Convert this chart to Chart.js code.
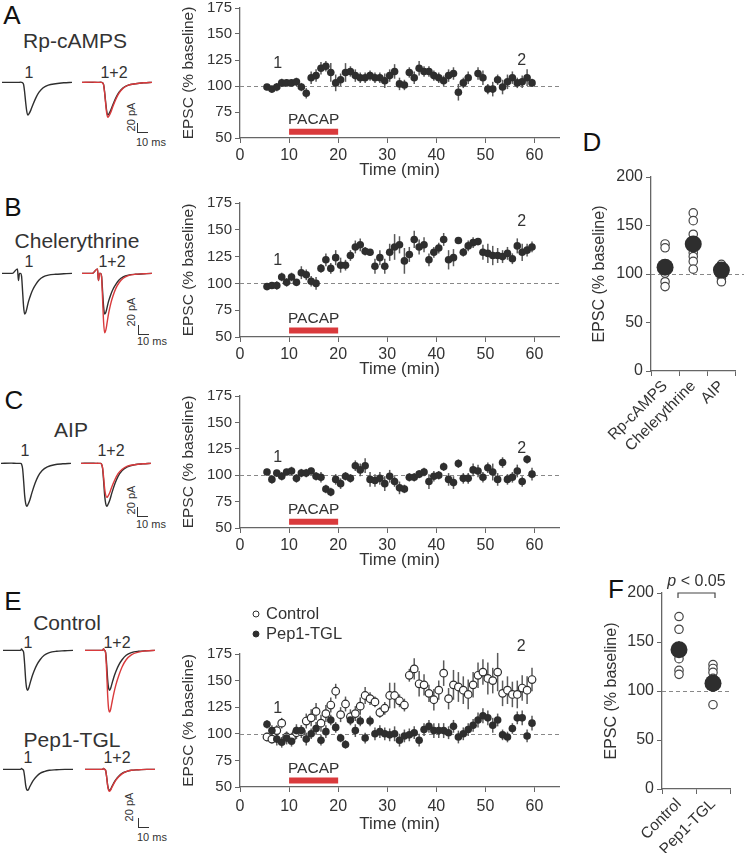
<!DOCTYPE html>
<html>
<head>
<meta charset="utf-8">
<script src="https://cdn.jsdelivr.net/npm/chart.js@4.4.0/dist/chart.umd.min.js"></script>
<style>
  body { margin: 0; width: 744px; height: 853px; position: relative; overflow: hidden; background: #fff;
         font-family: "Liberation Sans", Arial, sans-serif; color: #333; }
  canvas { position: absolute; }
  .t { position: absolute; white-space: nowrap; line-height: 1; transform: translate(-50%, -50%); }
  .let { font-size: 26px; color: #111; }
  .ttl { font-size: 21px; }
  .num { font-size: 16px; }
  .pa { font-size: 11px; transform: translate(-50%, -50%) rotate(-90deg); }
  .ms { position: absolute; font-size: 11px; line-height: 1; transform: translateY(-50%); white-space: nowrap; }
  .bar { position: absolute; width: 10px; height: 9px; border-left: 1.3px solid #333; border-bottom: 1.3px solid #333; }
</style>
</head>
<body>

<!-- panel letters -->
<div class="t let" style="left:12px;top:15px">A</div>
<div class="t let" style="left:13px;top:207px">B</div>
<div class="t let" style="left:14px;top:400px">C</div>
<div class="t let" style="left:592px;top:142px">D</div>
<div class="t let" style="left:13px;top:601px">E</div>
<div class="t let" style="left:616px;top:589px">F</div>

<!-- trace titles -->
<div class="t ttl" style="left:75px;top:40px">Rp-cAMPS</div>
<div class="t ttl" style="left:77px;top:240px">Chelerythrine</div>
<div class="t ttl" style="left:71px;top:429px">AIP</div>
<div class="t ttl" style="left:67px;top:622px">Control</div>
<div class="t ttl" style="left:72px;top:739px">Pep1-TGL</div>

<div class="t num" style="left:29px;top:73px">1</div>
<div class="t num" style="left:114px;top:73px">1+2</div>
<div class="t num" style="left:29px;top:262px">1</div>
<div class="t num" style="left:112px;top:262px">1+2</div>
<div class="t num" style="left:25px;top:451px">1</div>
<div class="t num" style="left:111px;top:451px">1+2</div>
<div class="t num" style="left:28px;top:643px">1</div>
<div class="t num" style="left:117px;top:643px">1+2</div>
<div class="t num" style="left:28px;top:758px">1</div>
<div class="t num" style="left:117px;top:758px">1+2</div>

<!-- scale bars -->
<div class="t pa" style="left:131px;top:117px">20 pA</div>
<div class="bar" style="left:137px;top:123px"></div>
<div class="ms" style="left:136px;top:142px">10 ms</div>
<div class="t pa" style="left:131px;top:312px">20 pA</div>
<div class="bar" style="left:138px;top:325px"></div>
<div class="ms" style="left:137px;top:341px">10 ms</div>
<div class="t pa" style="left:131px;top:500px">20 pA</div>
<div class="bar" style="left:137px;top:507px"></div>
<div class="ms" style="left:136px;top:524px">10 ms</div>
<div class="t pa" style="left:129px;top:807px">20 pA</div>
<div class="bar" style="left:138px;top:818px"></div>
<div class="ms" style="left:137px;top:837px">10 ms</div>

<!-- traces -->
<canvas id="trA1" width="70" height="68" style="left:2px;top:77px"></canvas>
<canvas id="trA2" width="70" height="68" style="left:82px;top:77px"></canvas>
<canvas id="trB1" width="70" height="68" style="left:2px;top:268px"></canvas>
<canvas id="trB2" width="70" height="68" style="left:82px;top:268px"></canvas>
<canvas id="trC1" width="70" height="68" style="left:1px;top:458px"></canvas>
<canvas id="trC2" width="70" height="68" style="left:81px;top:458px"></canvas>
<canvas id="trE1" width="70" height="68" style="left:3px;top:645px"></canvas>
<canvas id="trE2" width="70" height="68" style="left:85px;top:645px"></canvas>
<canvas id="trP1" width="70" height="68" style="left:3px;top:764px"></canvas>
<canvas id="trP2" width="70" height="68" style="left:85px;top:764px"></canvas>

<!-- time courses -->
<canvas id="cA" width="392" height="189" style="left:175px;top:-4px"></canvas>
<canvas id="cB" width="392" height="193" style="left:175px;top:191px"></canvas>
<canvas id="cC" width="392" height="191" style="left:175px;top:384px"></canvas>
<canvas id="cE" width="392" height="243" style="left:175px;top:596px"></canvas>

<!-- summaries -->
<canvas id="cD" width="169" height="336" style="left:575px;top:130px"></canvas>
<canvas id="cF" width="154" height="293" style="left:590px;top:560px"></canvas>

<script>
// time points (min)
const minutes = [5.5, 6.5, 7.5, 8.5, 9.5, 10.5, 11.5, 12.5, 13.5, 14.5, 15.5, 16.5, 17.5, 18.5, 19.5,
  20.5, 21.5, 22.5, 23.5, 24.5, 25.5, 26.5, 27.5, 28.5, 29.5, 30.5, 31.5, 32.5, 33.5, 34.5, 35.5,
  36.5, 37.5, 38.5, 39.5, 40.5, 41.5, 42.5, 43.5, 44.5, 45.5, 46.5, 47.5, 48.5, 49.5, 50.5, 51.5,
  52.5, 53.5, 54.5, 55.5, 56.5, 57.5, 58.5, 59.5];

// A - Rp-cAMPS (% baseline, SEM)
const rpValues = [99, 97, 99, 103, 103, 103, 104, 99, 93, 108, 110, 117, 119, 113, 103, 106, 113, 114, 110,
  108, 108, 110, 108, 108, 105, 110, 114, 102, 101, 113, 108, 117, 114, 114, 110, 108, 105, 110, 112, 94,
  103, 108, null, 112, 108, 97, 97, 106, 99, 104, 108, 103, 104, 108, 103];
const rpErr = [3, 3, 4, 4, 3, 3, 4, 4, 5, 6, 6, 6, 5, 9, 8, 6, 9, 5, 6, 5, 5, 5, 5, 5, 7, 6, 7, 6, 5, 5,
  6, 7, 5, 5, 5, 5, 5, 6, 6, 8, 5, 6, null, 6, 7, 5, 7, 5, 7, 7, 6, 5, 6, 8, 4];

// B - Chelerythrine
const cheValues = [97, 98, 98, 106, 101, 106, 101, 110, 108, 102, 100, 114, 122, 114, 124, 117, 117, 126,
  134, 136, 130, 129, 116, 124, 116, 129, 134, 136, 121, 127, 141, 134, 136, 122, 129, 133, 141, 122, 124,
  140, 129, 135, 138, 139, 129, 128, 126, 126, 125, 128, 123, 135, 129, 131, 134];
const cheErr = [3, 3, 4, 4, 4, 4, 3, 6, 5, 5, 6, 4, 6, 5, 7, 7, 5, 5, 6, 6, 4, 3, 7, 7, 7, 8, 12, 8, 12, 7,
  8, 7, 7, 6, 5, 5, 6, 9, 8, 3, 4, 5, 5, 3, 7, 9, 9, 7, 6, 6, 5, 7, 8, 6, 5];

// C - AIP
const aipValues = [103, 96, 102, 99, 103, 104, 97, 102, 102, 104, 99, 98, 87, 84, 96, 92, 99, 97, 109, 105,
  109, 96, 95, 97, 92, 99, 94, 88, 87, 98, 98, 101, 103, 94, 99, 100, 108, 96, 93, 111, 97, 97, 105, 104,
  98, 107, 103, 96, 112, 96, 98, 104, 94, 115, 101];
const aipErr = [3, 4, 3, 4, 3, 4, 4, 4, 4, 3, 4, 5, 4, 4, 5, 5, 4, 4, 5, 6, 7, 7, 6, 6, 7, 6, 5, 6, 4, 4,
  4, 4, 4, 7, 5, 4, 4, 6, 6, 4, 5, 5, 6, 6, 5, 5, 8, 6, 5, 5, 5, 6, 5, 4, 6];

// E - Control vs Pep1-TGL
const ctlValues = [97, 95, 103, 110, 97, 96, 101, 102, 112, 115, 121, 110, 119, 127, 140, 118, 128, 116,
  119, 126, 136, 133, 130, 120, 124, 136, 136, 131, 127, 155, 161, 147, 146, 138, 132, 141, 157, 133, 146,
  144, 141, 137, 146, 155, 158, 152, 150, 158, 138, 141, 137, 137, 143, 141, 151];
const ctlErr = [4, 4, 5, 5, 5, 5, 6, 6, 7, 8, 8, 8, 8, 7, 7, 7, 7, 7, 7, 8, 8, 6, 5, 5, 6, 12, 12, 6, 6, 6,
  10, 12, 10, 8, 10, 9, 12, 10, 14, 14, 13, 14, 12, 12, 12, 15, 12, 18, 12, 13, 12, 13, 12, 13, 11];
const pepValues = [109, 103, 95, 92, 96, 93, 103, 103, 95, 100, 105, 94, 102, 113, 106, 96, 90, 113, 103,
  112, 96, 112, 100, 102, 100, 99, 100, 94, 98, 99, 101, 94, 104, 107, 103, 103, 103, 101, 107, 97, 100,
  104, 108, 113, 117, 115, 108, 113, 99, 97, 105, 115, 115, 98, 110];
const pepErr = [4, 5, 6, 5, 6, 5, 6, 5, 6, 5, 6, 5, 6, 5, 5, 4, 4, 5, 6, 5, 5, 5, 6, 6, 6, 6, 7, 6, 6, 6,
  6, 6, 6, 6, 7, 7, 7, 6, 6, 6, 6, 6, 6, 7, 7, 7, 7, 6, 5, 5, 5, 6, 7, 6, 7];

// PACAP application
const pacapStart = 10, pacapEnd = 20, pacapLevel = 56;

// D summary
const dCategories = ['Rp-cAMPS', 'Chelerythrine', 'AIP'];
const dMeans = [107, 131, 104];
const dSem = [7, 7, 3];
const dRp = [131, 127, 110, 101, 92, 87];
const dChe = [163, 155, 141, 133, 122, 118, 113, 105];
const dAip = [110, 107, 104, 100, 96, 92];

// F summary
const fCategories = ['Control', 'Pep1-TGL'];
const fMeans = [142, 108];
const fSem = [9, 6];
const fCtl = [176, 163, 137, 133, 121, 117];
const fPep = [127, 123, 119, 113, 104, 86];

// example EPSC traces (ms, pA)
const traceMs = [0, 10, 15, 16, 17, 18, 19, 20, 21, 22, 23, 24, 25, 26, 28, 30, 33, 36, 40, 45, 52, 60, 68];
const trA1 = [0, 0, 0, 0, 0, 0.5, 0, -1, -5, -22, -45, -64, -73, -71, -62, -50, -34, -22, -12, -6, -3, -1, 0];
const trA2 = [0, 0.5, 0, 0, 0, 0, 0, -1, -6, -24, -48, -69, -78, -76, -67, -54, -37, -24, -13, -6, -3, -1, 0];
const trB1 = [0, 0, 10, -16, 0, 0, -6, -40, -75, -91, -88, -80, -70, -61, -47, -36, -24, -15, -8, -4, -2, -1, 0];
const trB2 = [0, 0, 10, -16, 0, 0, -8, -58, -110, -133, -128, -116, -101, -88, -67, -51, -33, -21, -11, -5, -2, -1, 0];
const trC1 = [0, 0.5, 0, 0, 0, 0, 0, -2, -12, -40, -72, -90, -96, -93, -82, -66, -45, -29, -16, -8, -3, -1, 0];
const trC2 = [0, 0, 0, 0.5, 0, 0, 0, -2, -10, -32, -57, -71, -76, -74, -65, -52, -36, -23, -13, -6, -3, -1, 0];
const trE1 = [0, 0, 0, 0, 0, 3, 0, -4, -30, -65, -85, -89, -84, -76, -60, -47, -32, -21, -11, -5, -2, -1, 0];
const trE2 = [0, 0, 0, 0, 0, 3, 0, -6, -46, -100, -132, -138, -131, -119, -96, -77, -55, -37, -21, -10, -4, -1, 0];
const trP1 = [0, 0, 0, 0, 0, 2, 0, -2, -16, -35, -45, -47, -44, -39, -30, -23, -15, -9, -5, -2, -1, 0, 0];
const trP2 = [0, 0, 0, 0, 0, 2, 0, -2, -17, -37, -47, -49, -46, -41, -32, -24, -16, -10, -5, -2, -1, 0, 0];

const FONT = '"Liberation Sans", Arial, sans-serif';
const RED = '#d93a3c';
const DARK = '#2e2e2e';
Chart.defaults.font.family = FONT;
Chart.defaults.color = '#333';

// baseline, error bars, labels, bracket
const figPlugin = {
  id: 'fig',
  beforeDatasetsDraw(chart, args, o) {
    const { ctx, chartArea, scales: { x, y } } = chart;
    if (o.baseline !== undefined) {
      const py = Math.round(y.getPixelForValue(o.baseline)) + 0.5;
      ctx.save();
      ctx.strokeStyle = '#888';
      ctx.lineWidth = 1;
      ctx.setLineDash([4, 3]);
      ctx.beginPath();
      ctx.moveTo(chartArea.left, py);
      ctx.lineTo(o.extend ? chart.width : chartArea.right, py);
      ctx.stroke();
      ctx.restore();
    }
    chart.data.datasets.forEach((ds, i) => {
      if (!ds.yErr) return;
      const meta = chart.getDatasetMeta(i);
      ctx.save();
      ctx.strokeStyle = '#5a5a5a';
      ctx.lineWidth = 1.5;
      meta.data.forEach((pt, j) => {
        const v = ds.data[j].y, e = ds.yErr[j];
        if (v == null || e == null) return;
        ctx.beginPath();
        ctx.moveTo(pt.x, y.getPixelForValue(v - e));
        ctx.lineTo(pt.x, y.getPixelForValue(v + e));
        ctx.stroke();
      });
      ctx.restore();
    });
  },
  afterDatasetsDraw(chart, args, o) {
    const { ctx, chartArea, scales: { x, y } } = chart;
    ctx.save();
    ctx.fillStyle = '#333';
    ctx.textAlign = 'center';
    ctx.textBaseline = 'middle';
    (o.marks || []).forEach(m => {
      ctx.font = (m.size || 16) + 'px ' + FONT;
      ctx.fillText(m.text, x.getPixelForValue(m.x), y.getPixelForValue(m.y) + (m.dy || 0));
    });
    (o.legend || []).forEach((l, k) => {
      const lx = chartArea.left + 16, ly = chartArea.top - 40 + 20 * k;
      ctx.beginPath();
      ctx.arc(lx, ly, 3, 0, Math.PI * 2);
      ctx.fillStyle = l.open ? '#fff' : DARK;
      ctx.fill();
      ctx.strokeStyle = DARK;
      ctx.lineWidth = 1;
      ctx.stroke();
      ctx.fillStyle = '#333';
      ctx.textAlign = 'left';
      ctx.font = '16.5px ' + FONT;
      ctx.fillText(l.text, lx + 10, ly);
    });
    if (o.bracket) {
      const b = o.bracket;
      const x0 = x.getPixelForValue(b.from) - 1, x1 = x.getPixelForValue(b.to) + 2;
      const py = y.getPixelForValue(b.value);
      ctx.strokeStyle = '#444';
      ctx.lineWidth = 1.2;
      ctx.beginPath();
      ctx.moveTo(x0, py + 5); ctx.lineTo(x0, py); ctx.lineTo(x1, py); ctx.lineTo(x1, py + 5);
      ctx.stroke();
      ctx.font = 'italic 16px ' + FONT;
      const w1 = ctx.measureText('p').width;
      ctx.font = '16px ' + FONT;
      const w2 = ctx.measureText(' < 0.05').width;
      const sx = (x0 + x1) / 2 - (w1 + w2) / 2;
      ctx.textAlign = 'left';
      ctx.fillStyle = '#333';
      ctx.font = 'italic 16px ' + FONT;
      ctx.fillText('p', sx, py - 11);
      ctx.font = '16px ' + FONT;
      ctx.fillText(' < 0.05', sx + w1, py - 11);
    }
    ctx.restore();
  }
};

function traceChart(id, traces) {
  new Chart(document.getElementById(id), {
    type: 'line',
    data: {
      datasets: traces.map((t, k) => ({
        data: traceMs.map((ms, i) => ({ x: ms, y: t.vals[i] })),
        borderColor: t.color, borderWidth: 1.4, pointRadius: 0,
        cubicInterpolationMode: 'monotone', order: traces.length - k
      }))
    },
    options: {
      responsive: false, animation: false,
      layout: { padding: 0 },
      scales: {
        x: { type: 'linear', min: 0, max: 68, display: false },
        y: { min: -140, max: 12, display: false }
      },
      plugins: { legend: { display: false }, tooltip: { enabled: false } }
    }
  });
}

traceChart('trA1', [{ vals: trA1, color: DARK }]);
traceChart('trA2', [{ vals: trA1, color: DARK }, { vals: trA2, color: RED }]);
traceChart('trB1', [{ vals: trB1, color: DARK }]);
traceChart('trB2', [{ vals: trB1, color: DARK }, { vals: trB2, color: RED }]);
traceChart('trC1', [{ vals: trC1, color: DARK }]);
traceChart('trC2', [{ vals: trC1, color: DARK }, { vals: trC2, color: RED }]);
traceChart('trE1', [{ vals: trE1, color: DARK }]);
traceChart('trE2', [{ vals: trE1, color: DARK }, { vals: trE2, color: RED }]);
traceChart('trP1', [{ vals: trP1, color: DARK }]);
traceChart('trP2', [{ vals: trP1, color: DARK }, { vals: trP2, color: RED }]);

function timeCourse(id, series, fig, padTop, xHeight, labelPad) {
  const datasets = [{
    type: 'line',
    data: [{ x: pacapStart, y: pacapLevel }, { x: pacapEnd, y: pacapLevel }],
    borderColor: RED, borderWidth: 6, pointRadius: 0, borderCapStyle: 'butt', order: 9
  }];
  series.forEach(s => datasets.push({
    data: minutes.map((t, i) => ({ x: t, y: s.values[i] })),
    yErr: s.errs,
    pointRadius: 3.8,
    pointBackgroundColor: s.open ? '#fff' : DARK,
    pointBorderColor: DARK,
    pointBorderWidth: s.open ? 1.2 : 0,
    order: s.order || 0
  }));
  fig.marks = (fig.marks || []).concat([{ text: 'PACAP', x: (pacapStart + pacapEnd) / 2, y: pacapLevel, dy: -12, size: 15.5 }]);
  fig.baseline = 100;
  new Chart(document.getElementById(id), {
    type: 'scatter',
    data: { datasets },
    plugins: [figPlugin],
    options: {
      responsive: false, animation: false,
      layout: { padding: { top: padTop, right: 8, left: 0, bottom: 0 } },
      scales: {
        x: {
          type: 'linear', min: 0, max: 65,
          afterFit: s => { s.height = xHeight; },
          ticks: { stepSize: 10, includeBounds: false, maxRotation: 0, padding: labelPad, color: '#333', font: { size: 16 } },
          grid: { drawOnChartArea: false, color: '#666', tickLength: 5 },
          border: { color: '#666', width: 1.3 },
          title: { display: true, text: 'Time (min)', color: '#333', font: { size: 17 } }
        },
        y: {
          min: 50, max: 175,
          afterFit: s => { s.width = 65; },
          ticks: { stepSize: 25, padding: 3, color: '#333', font: { size: 15 } },
          grid: { drawOnChartArea: false, color: '#666', tickLength: 5 },
          border: { color: '#666', width: 1.3 },
          title: { display: true, text: 'EPSC (% baseline)', color: '#333', font: { size: 15.5 } }
        }
      },
      plugins: { legend: { display: false }, tooltip: { enabled: false }, fig }
    }
  });
}

timeCourse('cA', [{ values: rpValues, errs: rpErr }],
  { marks: [{ text: '1', x: 7.7, y: 122 }, { text: '2', x: 57.4, y: 124 }] }, 12, 47, 3);
timeCourse('cB', [{ values: cheValues, errs: cheErr }],
  { marks: [{ text: '1', x: 7.7, y: 121 }, { text: '2', x: 57.4, y: 158 }] }, 12, 47, 3);
timeCourse('cC', [{ values: aipValues, errs: aipErr }],
  { marks: [{ text: '1', x: 7.7, y: 117 }, { text: '2', x: 57.4, y: 125 }] }, 12, 47, 3);
timeCourse('cE', [
    { values: ctlValues, errs: ctlErr, open: true, order: 1 },
    { values: pepValues, errs: pepErr, order: 0 }
  ],
  { marks: [{ text: '1', x: 7.7, y: 124 }, { text: '2', x: 57.3, y: 182 }],
    legend: [{ text: 'Control', open: true }, { text: 'Pep1-TGL', open: false }] }, 58, 52, 5);

function groupChart(id, cats, means, sems, groups, cfg) {
  new Chart(document.getElementById(id), {
    type: 'scatter',
    data: {
      datasets: [
        {
          data: cats.map((c, i) => ({ x: c, y: means[i] })), yErr: sems,
          pointRadius: 8.5, pointBackgroundColor: DARK, pointBorderWidth: 0, order: 0
        },
        {
          data: groups.flatMap((g, i) => g.map(v => ({ x: cats[i], y: v }))),
          pointRadius: 4.2, pointBackgroundColor: '#fff', pointBorderColor: '#444', pointBorderWidth: 1.2, order: 1
        }
      ]
    },
    plugins: [figPlugin],
    options: {
      responsive: false, animation: false,
      layout: { padding: { top: cfg.padTop, right: cfg.padRight, left: 0, bottom: 0 } },
      scales: {
        x: {
          type: 'category', labels: cats, offset: true,
          afterFit: s => { s.height = cfg.xHeight; },
          ticks: { autoSkip: false, minRotation: 45, maxRotation: 45, padding: 1, color: '#333', font: { size: 15.5 } },
          grid: { offset: true, drawOnChartArea: false, color: '#666', tickLength: 5 },
          border: { color: '#666', width: 1.3 }
        },
        y: {
          min: 0, max: 200,
          afterFit: s => { s.width = cfg.yWidth; },
          ticks: { stepSize: 50, padding: 3, color: '#333', font: { size: 16 } },
          grid: { drawOnChartArea: false, color: '#666', tickLength: 5 },
          border: { color: '#666', width: 1.3 },
          title: { display: true, text: 'EPSC (% baseline)', color: '#333', font: { size: 16 },
                   padding: { top: cfg.titlePad, bottom: 4 } }
        }
      },
      plugins: { legend: { display: false }, tooltip: { enabled: false }, fig: cfg.fig }
    }
  });
}

groupChart('cD', dCategories, dMeans, dSem, [dRp, dChe, dAip],
  { padTop: 47, padRight: 2, xHeight: 95, yWidth: 76, titlePad: 15, fig: { baseline: 100, extend: true } });
groupChart('cF', fCategories, fMeans, fSem, [fCtl, fPep],
  { padTop: 33, padRight: 14, xHeight: 64, yWidth: 72, titlePad: 12,
    fig: { baseline: 100, bracket: { from: 0, to: 1, value: 200 } } });
</script>
</body>
</html>
